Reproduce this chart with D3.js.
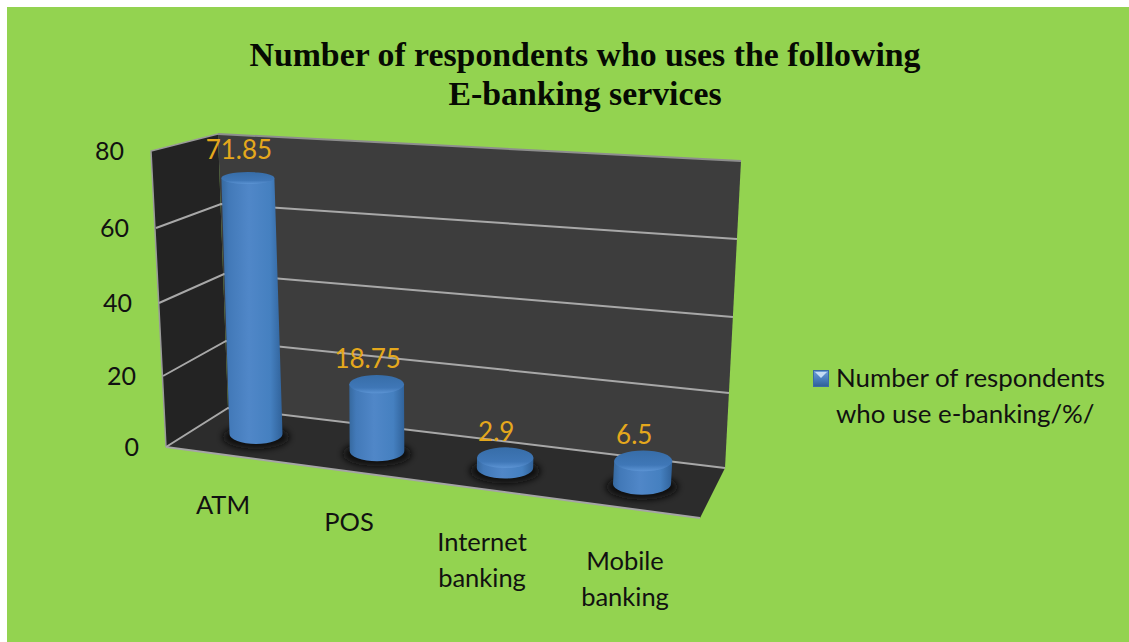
<!DOCTYPE html>
<html>
<head>
<meta charset="utf-8">
<script src="https://cdn.jsdelivr.net/npm/d3@7"></script>
<style>
html,body{margin:0;padding:0;background:#fff;}
svg{display:block;}
</style>
</head>
<body>
<svg id="chart" width="1129" height="642"></svg>
<script>
const titleLines = ["Number of respondents who uses the following", "E-banking services"];
const categories = ["ATM", "POS", "Internet banking", "Mobile banking"];
const categoryLines = [["ATM"], ["POS"], ["Internet", "banking"], ["Mobile", "banking"]];
const values = [71.85, 18.75, 2.9, 6.5];
const valueLabels = ["71.85", "18.75", "2.9", "6.5"];
const yTicks = [0, 20, 40, 60, 80];
const legendLines = ["Number of respondents", "who use e-banking/%/"];

const svg = d3.select("#chart");
const defs = svg.append("defs");

// Perspective frame of the chart box: each edge maps a value to a screen position.
const backLeftX = d3.scaleLinear().domain(yTicks).range([228, 226, 224, 221, 218]);
const backLeftY = d3.scaleLinear().domain(yTicks).range([408, 341, 274, 204, 134]);
const backRightX = d3.scaleLinear().domain(yTicks).range([725, 729, 733, 737, 741]);
const backRightY = d3.scaleLinear().domain(yTicks).range([468, 393, 317, 239, 161]);
const frontLeftX = d3.scaleLinear().domain(yTicks).range([166, 163, 159, 156, 151]);
const frontLeftY = d3.scaleLinear().domain(yTicks).range([447, 376, 303, 228, 151]);
const floorFrontRight = [700, 518];

// Column placement along the floor and column height in screen pixels.
const baseX = d3.scaleLinear().domain([0, 1, 2, 3]).range([256, 377, 505, 642]);
const baseY = d3.scaleLinear().domain([0, 1, 2, 3]).range([434, 451, 468, 484]);
const radiusX = d3.scaleLinear().domain([0, 3]).range([26.5, 29]);
const heightScale = d3.scaleLinear().domain([0, 80]).range([0, 285]);
const ellipseRy = d3.scaleLinear().domain([180, 470]).range([6, 10.5]);
const labelGap = d3.scaleLinear().domain([180, 390, 460]).range([13, 7, 6.5]);
const lean = (x, h) => h * (x - 400) * 0.00022;

// Gradients and the soft floor shadow
const sideGrad = defs.append("linearGradient").attr("id", "side");
[[0, "#36699f"], [0.12, "#4279b8"], [0.45, "#5087c8"], [0.8, "#4580c0"], [1, "#30629a"]]
  .forEach(([o, c]) => sideGrad.append("stop").attr("offset", o).attr("stop-color", c));
const capGrad = defs.append("linearGradient").attr("id", "cap")
  .attr("x1", 0).attr("x2", 0).attr("y1", 0).attr("y2", 1);
[[0, "#376da8"], [0.7, "#3f77b7"], [1, "#5c94d4"]]
  .forEach(([o, c]) => capGrad.append("stop").attr("offset", o).attr("stop-color", c));
defs.append("filter").attr("id", "soft").attr("x", "-40%").attr("y", "-80%")
  .attr("width", "180%").attr("height", "260%")
  .append("feGaussianBlur").attr("stdDeviation", 3.5);
const legendGrad = defs.append("linearGradient").attr("id", "legendKey")
  .attr("x1", 0).attr("x2", 0).attr("y1", 0).attr("y2", 1);
[[0, "#6f9fd8"], [0.5, "#4a80c0"], [1, "#2f5f96"]]
  .forEach(([o, c]) => legendGrad.append("stop").attr("offset", o).attr("stop-color", c));

// Page background
svg.append("rect").attr("x", 7).attr("y", 7).attr("width", 1122).attr("height", 635)
  .attr("fill", "#93d350");

// Title
svg.append("g").selectAll("text").data(titleLines).join("text")
  .attr("x", 585).attr("y", (d, i) => 66 + i * 39)
  .attr("text-anchor", "middle")
  .attr("font-family", "Liberation Serif").attr("font-weight", "bold")
  .attr("font-size", 33.8).attr("fill", "#060a03")
  .text(d => d);

// Walls and floor
const line = d3.line();
const frame = svg.append("g");
frame.append("path")
  .attr("d", line([[frontLeftX(80), frontLeftY(80)], [backLeftX(80), backLeftY(80)], [backLeftX(0), backLeftY(0)], [frontLeftX(0), frontLeftY(0)]]) + "Z")
  .attr("fill", "#232323");
frame.append("path")
  .attr("d", line([[frontLeftX(0), frontLeftY(0)], [frontLeftX(80), frontLeftY(80)], [backLeftX(80), backLeftY(80)]]))
  .attr("fill", "none").attr("stroke", "#9a9a9a").attr("stroke-width", 1.5);
frame.append("path")
  .attr("d", line([[backLeftX(80), backLeftY(80)], [backRightX(80), backRightY(80)], [backRightX(0), backRightY(0)], [backLeftX(0), backLeftY(0)]]) + "Z")
  .attr("fill", "#3d3d3d");
frame.append("path")
  .attr("d", line([[backLeftX(0), backLeftY(0)], [backRightX(0), backRightY(0)], floorFrontRight, [frontLeftX(0), frontLeftY(0)]]) + "Z")
  .attr("fill", "#2c2c2c");
frame.append("path")
  .attr("d", line([[backLeftX(80), backLeftY(80)], [backRightX(80), backRightY(80)]]))
  .attr("stroke", "#8e8e8e").attr("stroke-width", 2).attr("fill", "none");
frame.append("path")
  .attr("d", line([[frontLeftX(0), frontLeftY(0)], floorFrontRight]))
  .attr("stroke", "#a5a5a5").attr("stroke-width", 2).attr("fill", "none");

// Gridlines run along the left wall and then across the back wall
frame.selectAll("path.grid").data(yTicks.slice(0, 4)).join("path")
  .attr("class", "grid")
  .attr("d", d => line([[frontLeftX(d), frontLeftY(d)], [backLeftX(d), backLeftY(d)], [backRightX(d), backRightY(d)]]))
  .attr("fill", "none").attr("stroke", "#a8a8a8").attr("stroke-width", 2);

// Value axis labels
svg.append("g").selectAll("text").data(yTicks).join("text")
  .attr("x", d => frontLeftX(d) - 27).attr("y", d => frontLeftY(d) + 9)
  .attr("text-anchor", "end")
  .attr("font-family", "Lato").attr("font-size", 25).attr("fill", "#111")
  .text(d => d);

// Cylinders
const columns = svg.append("g").selectAll("g").data(values).join("g");
const geom = (d, i) => {
  const h = heightScale(d);
  const bx = baseX(i), by = baseY(i), rx = radiusX(i);
  const tx = bx + lean(bx, h), ty = by - h;
  return { bx, by, rx, tx, ty, rb: ellipseRy(by), rt: ellipseRy(ty) };
};
columns.append("ellipse")
  .attr("cx", (d, i) => geom(d, i).bx)
  .attr("cy", (d, i) => geom(d, i).by + 3)
  .attr("rx", (d, i) => geom(d, i).rx + 7)
  .attr("ry", (d, i) => geom(d, i).rb + 2)
  .attr("fill", "#0c0c0c").attr("filter", "url(#soft)");
columns.append("path")
  .attr("fill", "url(#side)")
  .attr("d", (d, i) => {
    const g = geom(d, i);
    return `M${g.tx - g.rx},${g.ty} L${g.bx - g.rx},${g.by} A${g.rx},${g.rb} 0 0 0 ${g.bx + g.rx},${g.by} L${g.tx + g.rx},${g.ty} Z`;
  });
columns.append("ellipse")
  .attr("cx", (d, i) => geom(d, i).tx)
  .attr("cy", (d, i) => geom(d, i).ty)
  .attr("rx", (d, i) => geom(d, i).rx)
  .attr("ry", (d, i) => geom(d, i).rt)
  .attr("fill", "url(#cap)");

// Value labels above each column
columns.append("text")
  .attr("x", (d, i) => geom(d, i).tx - 9)
  .attr("y", (d, i) => geom(d, i).ty - geom(d, i).rt - labelGap(geom(d, i).ty))
  .attr("text-anchor", "middle")
  .attr("font-family", "Lato").attr("font-size", 26).attr("fill", "#e5a81c")
  .text((d, i) => valueLabels[i]);

// Category labels
const catX = d3.scaleLinear().domain([0, 1, 2, 3]).range([223, 349, 482, 625]);
const catY = d3.scaleLinear().domain([0, 1, 2, 3]).range([514, 531, 551, 570]);
svg.append("g").selectAll("g").data(categoryLines).join("g")
  .attr("data-category", (d, i) => categories[i])
  .selectAll("text").data((d, i) => d.map((t, j) => ({ t, i, j }))).join("text")
  .attr("x", d => catX(d.i))
  .attr("y", d => catY(d.i) + d.j * 36)
  .attr("text-anchor", "middle")
  .attr("font-family", "Lato").attr("font-size", 25.5).attr("fill", "#111")
  .text(d => d.t);

// Legend
const legend = svg.append("g");
legend.append("rect").attr("x", 813.5).attr("y", 370.5).attr("width", 15).attr("height", 16)
  .attr("fill", "url(#legendKey)").attr("stroke", "#3a6ca5").attr("stroke-width", 1);
legend.append("path")
  .attr("d", line([[815, 372], [827, 372], [821, 378]]) + "Z")
  .attr("fill", "#c4dcf4");
legend.selectAll("text").data(legendLines).join("text")
  .attr("x", 836).attr("y", (d, i) => 387 + i * 36)
  .attr("font-family", "Lato").attr("font-size", 25.9).attr("fill", "#111")
  .text(d => d);
</script>
</body>
</html>
